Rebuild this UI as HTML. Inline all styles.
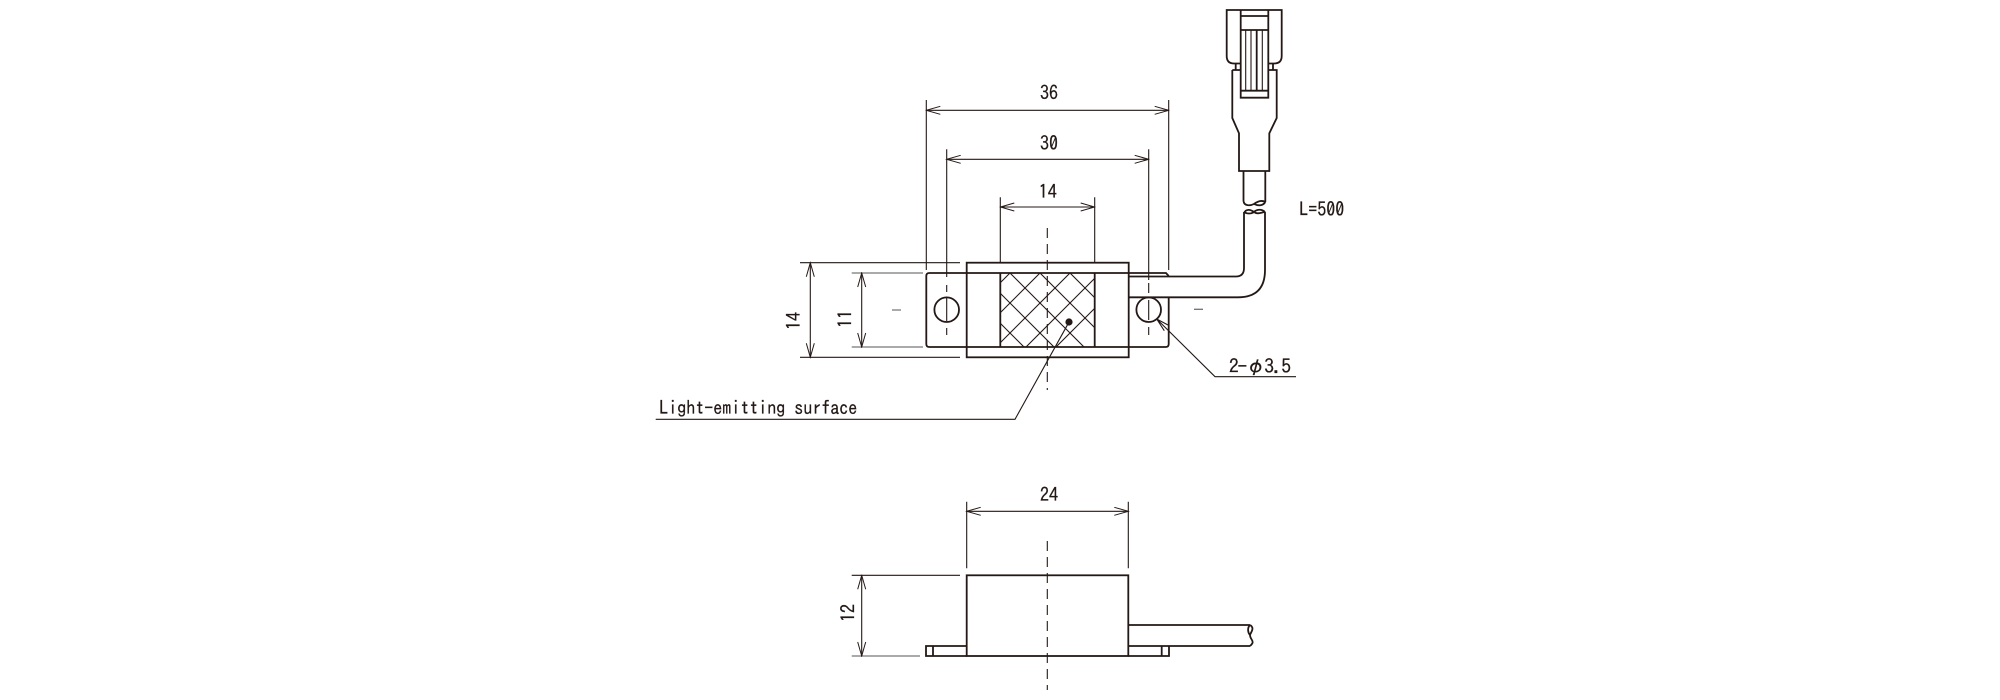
<!DOCTYPE html>
<html lang="en">
<head>
<meta charset="utf-8">
<title>Drawing</title>
<style>
html,body{margin:0;padding:0;background:#fff}
svg{display:block}
text{font-family:"IPAGothic","Liberation Mono",monospace;font-size:19.5px;fill:#231815;stroke:#231815;stroke-width:.25}
.o{fill:none;stroke:#231815;stroke-width:1.8}
.d{fill:none;stroke:#231815;stroke-width:1.1}
.g{fill:none;stroke:#777;stroke-width:1.3}
.c{fill:none;stroke:#231815;stroke-width:1.1;stroke-dasharray:10 6}
.a{marker-start:url(#ah);marker-end:url(#ah)}
</style>
</head>
<body>
<svg xmlns="http://www.w3.org/2000/svg" width="2000" height="700" viewBox="0 0 2000 700">
<defs>
<marker id="ah" markerUnits="userSpaceOnUse" markerWidth="16" markerHeight="12" refX="15" refY="6" orient="auto-start-reverse">
<path d="M1 2 L15 6 L1 10" fill="none" stroke="#231815" stroke-width="1"/>
</marker>
<clipPath id="hc"><rect x="1000.3" y="273" width="94.4" height="74"/></clipPath>
</defs>
<rect width="2000" height="700" fill="#fff"/>

<!-- Top dimensions -->
<path class="d" d="M926.3 100V270M1168.7 100V270M946.7 149.3V277M1148.7 149.3V280M1000.3 197.3V263M1094.7 197.3V263"/>
<path class="d a" d="M926.3 110.3H1168.7"/>
<path class="d a" d="M946.7 159.3H1148.7"/>
<path class="d a" d="M1000.3 207H1094.7"/>
<text x="1049" y="99.5" text-anchor="middle" textLength="18" lengthAdjust="spacingAndGlyphs">36</text>
<text x="1049" y="150" text-anchor="middle" textLength="18" lengthAdjust="spacingAndGlyphs">30</text>
<text x="1047.7" y="198.5" text-anchor="middle" textLength="18" lengthAdjust="spacingAndGlyphs">14</text>

<!-- Left dimensions -->
<path class="d" d="M800 262.7H960M800 357.3H960"/>
<path class="g" d="M851.7 273H923M851.7 347H923M892 310H901M1194 309.3H1203"/>
<path class="d a" d="M810.3 262.7V357.3"/>
<path class="d a" d="M861.7 273V347"/>
<text transform="translate(800.5 321) rotate(-90)" text-anchor="middle" textLength="18" lengthAdjust="spacingAndGlyphs">14</text>
<text transform="translate(852 319) rotate(-90)" text-anchor="middle" textLength="18" lengthAdjust="spacingAndGlyphs">11</text>

<!-- Flange -->
<path class="o" d="M966.7 273H929.3Q926.3 273 926.3 276V344Q926.3 347 929.3 347H1165.7Q1168.7 347 1168.7 344V297.3"/>
<path class="o" d="M966.7 273H1166L1168.7 276"/>
<!-- Hatch -->
<g clip-path="url(#hc)" class="d">
<path class="d" d="M950 273L1050 373M980 273L1080 373M1010 273L1110 373M1040 273L1140 373M1070 273L1170 373
M1010 273L910 373M1040 273L940 373M1070 273L970 373M1100 273L1000 373M1130 273L1030 373"/>
</g>
<path class="o" d="M1000.3 273V347M1094.7 273V347"/>
<rect class="o" x="966.7" y="262.7" width="162" height="94.6"/>
<circle class="o" cx="946.7" cy="309.7" r="12.3"/>
<circle class="o" cx="1148.7" cy="309.7" r="12.3"/>
<path class="d" d="M946.7 285V292M946.7 298V321M946.7 328V335M1148.7 283V293M1148.7 300V320M1148.7 327V335"/>
<path class="c" d="M1047.3 228V390"/>
<circle cx="1069" cy="322" r="3.6" fill="#231815"/>

<!-- Cable -->
<path class="o" d="M1128.7 276.5H1236Q1244 276.5 1244 268V212"/>
<path class="o" d="M1128.7 297.3H1238Q1265 297.3 1265 270V212"/>
<path class="o" d="M1244 213C1246 209 1250 209 1254 212C1258 215 1262 212 1265 212M1244 212C1247 214 1251 214 1254 212C1257 209 1262 209 1265 212"/>
<path class="o" d="M1243.5 201C1244 206 1250 206 1254 204C1258 201 1262 200 1265.3 202M1254 204C1258 206 1263 206 1265.3 202"/>

<!-- Connector -->
<path class="o" d="M1243.5 171V201M1265.3 171V202"/>
<path class="o" d="M1232.3 70V118L1239 133.3V171H1269.3V133.3L1276.7 118V70H1268.3M1232.3 70H1240.7"/>
<path class="o" d="M1240.7 63.5H1234Q1226.7 63.5 1226.7 56V10H1281.7V56Q1281.7 63.5 1274 63.5H1268.3"/>
<path class="o" d="M1235.7 64V70M1273 64V70"/>
<path class="o" d="M1240.7 10V97.7H1268.3V10M1240.7 16H1268.3M1240.7 30H1268.3M1240.7 90.7H1268.3"/>
<path class="d" d="M1245.7 30V90.7M1251 30V90.7M1262.3 30V90.7"/>
<path class="o" d="M1256.7 30V90.7"/>
<text x="1299.3" y="216" textLength="45" lengthAdjust="spacingAndGlyphs">L=500</text>

<!-- Leaders -->
<path class="d" d="M1296 376.7H1215L1156.7 319M1156.7 319L1164.3 330.7M1156.7 319L1168 325"/>
<text x="1229" y="373" textLength="62" lengthAdjust="spacing">2-φ3.5</text>
<path class="d" d="M655.7 419.3H1015L1068.3 323.3"/>
<text x="659.3" y="414.3" textLength="198" lengthAdjust="spacingAndGlyphs">Light-emitting surface</text>

<!-- Side view -->
<path class="d" d="M966.7 501.7V568.3M1128.3 501.7V568.3"/>
<path class="d a" d="M966.7 511.3H1128.3"/>
<text x="1049" y="501.5" text-anchor="middle" textLength="18" lengthAdjust="spacingAndGlyphs">24</text>
<rect class="o" x="966.7" y="575.3" width="161.6" height="80.7"/>
<path class="o" d="M966.7 646H926V656H966.7M933 646V656M1128.3 646H1250M1161.7 646V656M1169 646V656H1128.3M1128.3 625H1250"/>
<path class="o" d="M1250 625C1255 628 1251 632 1250 635C1250 640 1256 641 1250 646M1250 625C1247 628 1248 633 1250 635"/>
<path class="c" d="M1047.3 541V690"/>
<path class="d" d="M851.7 575.3H960"/>
<path class="g" d="M851.7 656H920"/>
<path class="d a" d="M861.7 575.3V656"/>
<text transform="translate(855 613) rotate(-90)" text-anchor="middle" textLength="18" lengthAdjust="spacingAndGlyphs">12</text>
</svg>
</body>
</html>
